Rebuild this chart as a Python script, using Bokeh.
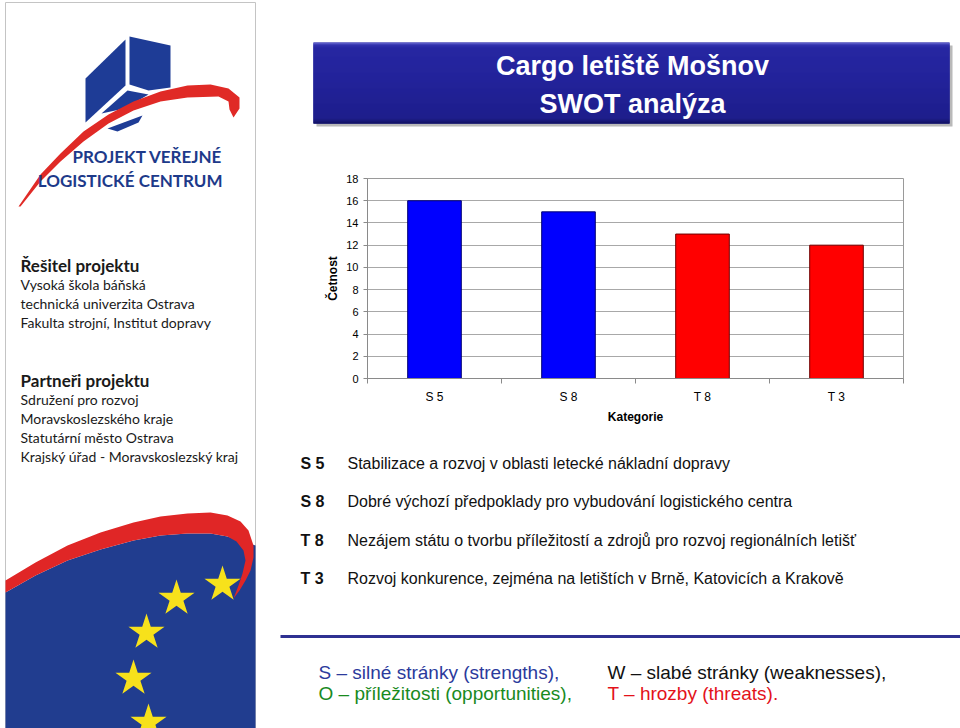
import numpy as np
from bokeh.plotting import figure
from bokeh.layouts import row, column
from bokeh.models import Range1d, FixedTicker
from bokeh.core.properties import value
from bokeh.embed import file_html
from bokeh.resources import INLINE

# ---------------- data ----------------
categories = ["S 5", "S 8", "T 8", "T 3"]
counts = [16, 15, 13, 12]
y_ticks = [0, 2, 4, 6, 8, 10, 12, 14, 16, 18]
x_axis_label = "Kategorie"
y_axis_label = "Četnost"

title_lines = ["Cargo letiště Mošnov", "SWOT analýza"]

codes = ["S 5", "S 8", "T 8", "T 3"]
descriptions = [
    "Stabilizace a rozvoj v oblasti letecké nákladní dopravy",
    "Dobré výchozí předpoklady pro vybudování logistického centra",
    "Nezájem státu o tvorbu příležitostí a zdrojů pro rozvoj regionálních letišť",
    "Rozvoj konkurence, zejména na letištích v Brně, Katovicích a Krakově",
]

legend_left = ["S – silné stránky (strengths),", "O – příležitosti (opportunities),"]
legend_right = ["W – slabé stránky (weaknesses),", "T – hrozby (threats)."]

logo_lines = ["PROJEKT VEŘEJNÉ", "LOGISTICKÉ CENTRUM"]
solver_heading = "Řešitel projektu"
solver_lines = ["Vysoká škola báňská", "technická univerzita Ostrava",
                "Fakulta strojní, Institut dopravy"]
partner_heading = "Partneři projektu"
partner_lines = ["Sdružení pro rozvoj", "Moravskoslezského kraje",
                 "Statutární město Ostrava", "Krajský úřad - Moravskoslezský kraj"]

# ---------------- styles ----------------
BLUE_BAR, RED_BAR = "#0000ff", "#ff0000"
bar_fill = [BLUE_BAR if c.startswith("S") else RED_BAR for c in categories]
bar_line = ["#000070" if c.startswith("S") else "#700000" for c in categories]
SANS = "Liberation Sans"
GEO = "Lato"


def canvas(w, h):
    p = figure(width=w, height=h, x_range=Range1d(0, w), y_range=Range1d(h, 0),
               output_backend="svg", toolbar_location=None, min_border=0,
               x_axis_location=None, y_axis_location=None,
               outline_line_color=None, frame_align=False)
    p.grid.visible = False
    p.background_fill_color = "white"
    p.border_fill_color = "white"
    return p


# ---------------- left panel ----------------
left = canvas(260, 728)
left.quad(left=5, right=255, top=2, bottom=740, fill_color="white",
          line_color="#c4c4c4", line_width=1)

LOGO_BLUE = "#1e3c96"
LOGO_RED = "#e02a26"
left.patches(
    xs=[[85, 125, 125, 85], [129, 170, 170, 148, 129], [101, 127, 148, 124],
        [107, 142, 138, 117]],
    ys=[[78, 39, 85, 122], [36, 45, 87, 90, 84], [113, 90, 94, 108],
        [128, 115, 122, 131]],
    fill_color=LOGO_BLUE, line_color=None)
sw_top = [(18, 206), (40, 174), (60, 153), (83, 131), (108, 114), (133, 101),
          (160, 91), (187, 85), (210, 84), (228, 88), (239, 97), (239, 108), (233, 117)]
sw_bot = [(229, 109), (228, 101), (218, 96), (187, 97), (160, 101), (133, 110),
          (108, 123), (83, 141), (60, 161), (40, 181), (20, 206)]
sw = sw_top + sw_bot
left.patch([q[0] for q in sw], [q[1] for q in sw], fill_color=LOGO_RED, line_color=None)
left.text(x=[222, 222], y=[156, 180], text=logo_lines, text_align="right",
          text_baseline="middle", text_font=value(GEO), text_font_style="bold",
          text_font_size="17px", text_color="#1d3a8a")

left.text(x=[20], y=[265], text=[solver_heading], text_baseline="middle",
          text_font=value(GEO), text_font_style="bold", text_font_size="17px",
          text_color="#1a1a1a")
left.text(x=[20] * 3, y=[284, 303, 322], text=solver_lines, text_baseline="middle",
          text_font=value(GEO), text_font_size="14px", text_color="#1a1a1a")
left.text(x=[20], y=[380], text=[partner_heading], text_baseline="middle",
          text_font=value(GEO), text_font_style="bold", text_font_size="17px",
          text_color="#1a1a1a")
left.text(x=[20] * 4, y=[399, 418, 437, 456], text=partner_lines,
          text_baseline="middle", text_font=value(GEO), text_font_size="14px",
          text_color="#1a1a1a")

EU_BLUE = "#213d8f"
blue_poly = [(5, 592), (35, 575), (67, 560), (100, 549), (133, 540), (160, 535),
             (187, 533), (210, 533), (227, 536), (240, 540), (255, 545), (255, 728),
             (5, 728)]
left.patch([q[0] for q in blue_poly], [q[1] for q in blue_poly], fill_color=EU_BLUE,
           line_color=None)
red_top = [(5, 580), (35, 562), (67, 545), (100, 532), (133, 522), (160, 516),
           (187, 513), (210, 512), (227, 515), (240, 521), (248, 530), (253, 545),
           (253, 557), (250, 570), (245, 580), (239, 590), (233, 598)]
red_bot = [(238, 585), (242, 573), (245, 560), (243, 550), (236, 541), (227, 536),
           (210, 533), (187, 533), (160, 535), (133, 540), (100, 549), (67, 560),
           (35, 575), (5, 592)]
rp = red_top + red_bot
left.patch([q[0] for q in rp], [q[1] for q in rp], fill_color="#e02626", line_color=None)
left.scatter(x=[222, 176, 146, 133, 148], y=[584, 598, 632, 678, 722], marker="star",
             size=38, fill_color="#f7e11b", line_color=None)

# ---------------- title ----------------
tfig = canvas(700, 150)
tfig.quad(left=56, right=692, top=45, bottom=126, fill_color="#8a8a8a",
          fill_alpha=0.6, line_color=None)
tfig.quad(left=53, right=689, top=42, bottom=123, fill_color="#22229a", line_color=None)
rows_y = np.arange(42, 123)
stops_y = [42, 44, 47, 80, 117, 120, 123]
stops_c = np.array([[0x62, 0x62, 0xcc], [0x33, 0x33, 0xae], [0x27, 0x27, 0xa2],
                    [0x23, 0x23, 0x9a], [0x1e, 0x1e, 0x8c], [0x18, 0x18, 0x78],
                    [0x10, 0x10, 0x5c]])
cols = []
for yy in rows_y:
    rgb = [int(np.interp(yy, stops_y, stops_c[:, k])) for k in range(3)]
    cols.append("#%02x%02x%02x" % tuple(rgb))
tfig.quad(left=53, right=689, top=rows_y, bottom=np.minimum(rows_y + 2, 123),
          fill_color=cols, line_color=None)
tfig.text(x=[372, 372], y=[65, 103], text=title_lines, text_align="center",
          text_baseline="middle", text_font=value(SANS), text_font_style="bold",
          text_font_size="27px", text_color="white")

# ---------------- chart ----------------
x_pos = [i + 0.5 for i in range(len(categories))]
chart = figure(width=700, height=290, x_range=Range1d(0, len(categories)),
               y_range=Range1d(y_ticks[0], y_ticks[-1]), output_backend="svg",
               toolbar_location=None, min_border_left=107, min_border_right=57,
               min_border_top=28, min_border_bottom=62, frame_align=False)
chart.vbar(x=x_pos, top=counts, width=0.4, fill_color=bar_fill, line_color=bar_line,
           line_width=1)
chart.background_fill_color = "white"
chart.border_fill_color = "white"
chart.outline_line_color = "#9a9a9a"
chart.xgrid.visible = False
chart.ygrid.grid_line_color = "#a8a8a8"
chart.xaxis.ticker = FixedTicker(ticks=x_pos, minor_ticks=list(range(len(categories) + 1)))
chart.xaxis.major_label_overrides = {x: c for x, c in zip(x_pos, categories)}
chart.yaxis.ticker = FixedTicker(ticks=y_ticks)
chart.xaxis.axis_label = x_axis_label
chart.yaxis.axis_label = y_axis_label
for ax in (chart.xaxis[0], chart.yaxis[0]):
    ax.axis_line_color = "#8a8a8a"
    ax.major_label_text_font = SANS
    ax.major_label_text_color = "black"
    ax.axis_label_text_font = SANS
    ax.axis_label_text_font_style = "bold"
    ax.axis_label_text_font_size = "12px"
    ax.axis_label_text_color = "black"
chart.xaxis.major_tick_out = 0
chart.xaxis.major_tick_in = 0
chart.xaxis.minor_tick_out = 5
chart.xaxis.minor_tick_in = 0
chart.xaxis.minor_tick_line_color = "#8a8a8a"
chart.xaxis.major_label_text_font_size = "12px"
chart.xaxis.major_label_standoff = 6
chart.xaxis.axis_label_standoff = 3
chart.yaxis.major_tick_out = 4
chart.yaxis.major_tick_in = 0
chart.yaxis.major_tick_line_color = "#8a8a8a"
chart.yaxis.minor_tick_line_color = None
chart.yaxis.major_label_text_font_size = "11px"
chart.yaxis.major_label_standoff = 5
chart.yaxis.axis_label_standoff = 3

# ---------------- bottom ----------------
bfig = canvas(700, 288)
rows_b = [23, 61, 100, 138]
bfig.text(x=[40] * 4, y=rows_b, text=codes, text_baseline="middle",
          text_font=value(SANS), text_font_style="bold", text_font_size="16px",
          text_color="#111111")
bfig.text(x=[87] * 4, y=rows_b, text=descriptions, text_baseline="middle",
          text_font=value(SANS), text_font_size="16px", text_color="#111111")
bfig.line(x=[20, 700], y=[196, 196], line_color="#2e3192", line_width=3)
bfig.text(x=[58, 58], y=[232, 253], text=legend_left, text_baseline="middle",
          text_font=value(SANS), text_font_size="19px",
          text_color=["#2b3a9c", "#198a1e"])
bfig.text(x=[347, 347], y=[232, 253], text=legend_right, text_baseline="middle",
          text_font=value(SANS), text_font_size="19px",
          text_color=["#111111", "#e3121a"])

layout = row(left, column(tfig, chart, bfig))
open("out.html", "w").write(file_html(layout, INLINE))
